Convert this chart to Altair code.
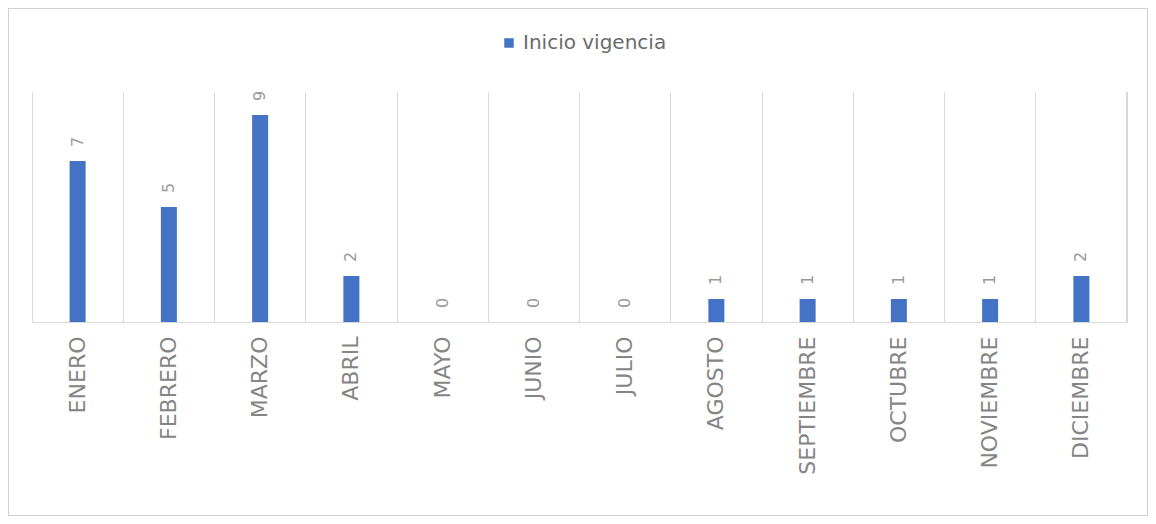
import altair as alt
import pandas as pd

meses = ["ENERO", "FEBRERO", "MARZO", "ABRIL", "MAYO", "JUNIO", "JULIO",
         "AGOSTO", "SEPTIEMBRE", "OCTUBRE", "NOVIEMBRE", "DICIEMBRE"]
valores = [7, 5, 9, 2, 0, 0, 0, 1, 1, 1, 1, 2]
serie = "Inicio vigencia"

df = pd.DataFrame({"mes": meses, "valor": valores, "serie": [serie] * len(meses)})

W, H = 1095, 230
PL, PT, PR, PB = 24, 84, 21, 194
GRID = "#d9d9d9"
FONT = "DejaVu Sans"

x_enc = alt.X(
    "mes:N", sort=meses, title=None,
    scale=alt.Scale(paddingInner=0, paddingOuter=0),
    axis=alt.Axis(labelAngle=-90, labelFontSize=22, labelFont=FONT,
                  labelColor="#858585", labelPadding=14, labelLimit=300,
                  ticks=False, domain=True, domainColor=GRID,
                  grid=True, gridColor=GRID, bandPosition=0),
)
y_enc = alt.Y("valor:Q", scale=alt.Scale(domain=[0, 10]), axis=None)

base = alt.Chart(df)

bars = base.mark_bar(size=16).encode(
    x=x_enc, y=y_enc,
    color=alt.Color("serie:N", scale=alt.Scale(range=["#4472C4"]),
                    legend=alt.Legend(title=None, orient="none", legendX=467, legendY=-59,
                                      symbolType="square", symbolSize=90,
                                      labelFontSize=20, labelFont=FONT,
                                      labelColor="#6b6b6b", labelOffset=4,
                                      padding=0)),
)

labels = base.mark_text(angle=270, align="left", baseline="middle", dx=14,
                        fontSize=16, font=FONT, color="#999999").encode(
    x=alt.X("mes:N", sort=meses), y=alt.Y("valor:Q"), text="valor:Q"
)

right_edge = alt.Chart(df).mark_rule(color=GRID).encode(
    x=alt.value(W), y=alt.value(0), y2=alt.value(H)
)

border = alt.Chart(df).mark_rect(fillOpacity=0, stroke="#d0d0d0", strokeWidth=1).encode(
    x=alt.value(-PL + 0.5), x2=alt.value(W + PR - 0.5),
    y=alt.value(-PT + 0.5), y2=alt.value(H + PB - 0.5)
)

chart = alt.layer(right_edge, bars, labels, border).properties(
    width=W, height=H,
    autosize=alt.AutoSizeParams(type="none"),
    padding={"left": PL, "top": PT, "right": PR, "bottom": PB},
).configure(background="white").configure_view(stroke=None)

chart.save("out.html", embed_options={"renderer": "svg", "actions": False})
